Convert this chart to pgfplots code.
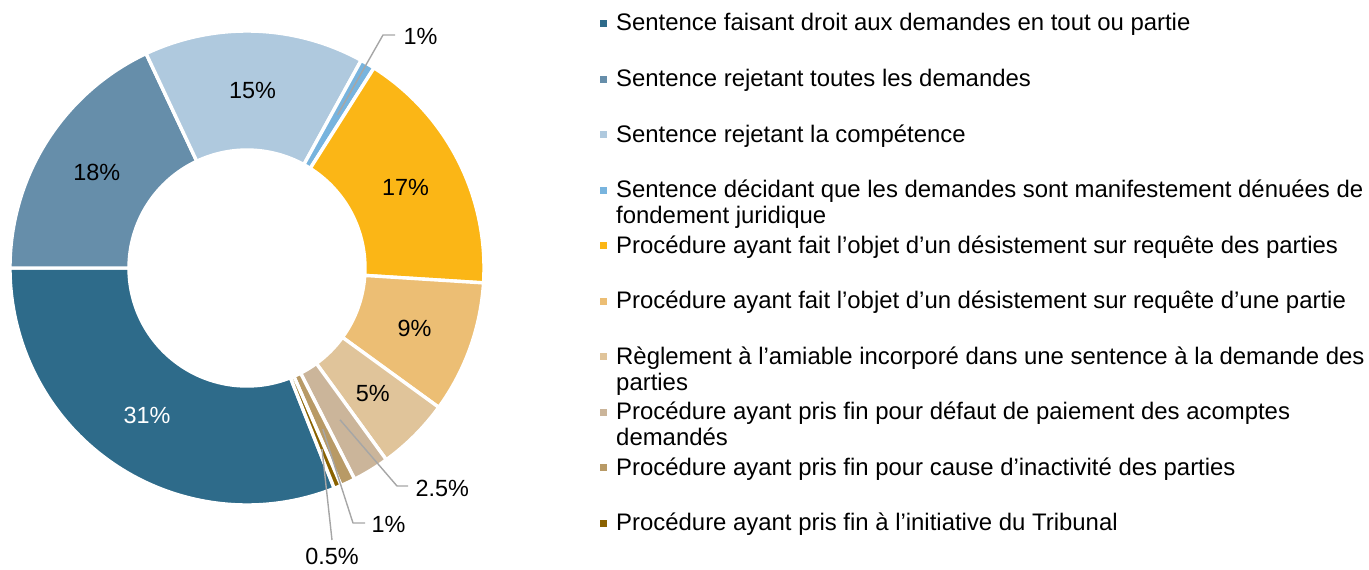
\documentclass[border=0pt]{standalone}
\usepackage{fontspec}
\setmainfont{Liberation Sans}
\usepackage{pgfplots}
\usepackage{pgfplotstable}
\pgfplotsset{compat=1.18}

\definecolor{c0}{RGB}{46,107,138}
\definecolor{c1}{RGB}{102,142,170}
\definecolor{c2}{RGB}{175,201,222}
\definecolor{c3}{RGB}{120,180,222}
\definecolor{c4}{RGB}{251,182,22}
\definecolor{c5}{RGB}{236,190,116}
\definecolor{c6}{RGB}{224,196,154}
\definecolor{c7}{RGB}{203,181,154}
\definecolor{c8}{RGB}{184,154,102}
\definecolor{c9}{RGB}{138,98,0}
\definecolor{leader}{RGB}{166,166,166}

% share of each category (%), in legend order
\pgfplotstableread{
value
31
18
15
1
17
9
5
2.5
1
0.5
}\piedata

\def\startangle{158.4}% first slice starts at this angle (clockwise from 12 o'clock)
\def\cx{247}\def\cy{268}\def\Rout{237}\def\Rin{118}\def\Rlab{178}
\pgfmathsetmacro{\cum}{0}
\pgfplotsforeachungrouped \i in {0,...,9}{%
  \pgfplotstablegetelem{\i}{value}\of\piedata
  \expandafter\xdef\csname v\i\endcsname{\pgfplotsretval}%
  \pgfmathsetmacro{\va}{\pgfplotsretval}%
  \pgfmathsetmacro{\aS}{90-(\startangle+3.6*\cum)}%
  \pgfmathsetmacro{\aE}{\aS-3.6*\va}%
  \pgfmathsetmacro{\aM}{(\aS+\aE)/2}%
  \pgfmathsetmacro{\lx}{\cx+\Rlab*cos(\aM)}%
  \pgfmathsetmacro{\ly}{\cy-\Rlab*sin(\aM)}%
  \pgfmathsetmacro{\mx}{\cx+196*cos(\aM)}%
  \pgfmathsetmacro{\my}{\cy-196*sin(\aM)}%
  \expandafter\xdef\csname aS\i\endcsname{\aS}%
  \expandafter\xdef\csname aE\i\endcsname{\aE}%
  \expandafter\xdef\csname lx\i\endcsname{\lx}%
  \expandafter\xdef\csname ly\i\endcsname{\ly}%
  \expandafter\xdef\csname mx\i\endcsname{\mx}%
  \expandafter\xdef\csname my\i\endcsname{\my}%
  \pgfmathsetmacro{\cum}{\cum+\va}%
}

\newcommand{\legitem}[2]{%
  \pgfmathsetmacro{\yb}{31+55.5*#1}%
  \pgfmathsetmacro{\ys}{\yb-11}%
  \pgfmathsetmacro{\ye}{\yb-4}%
  \edef\temp{\noexpand\fill[c#1] (axis cs:600,\ys) rectangle (axis cs:607,\ye);
    \noexpand\node[font=\noexpand\fontsize{24}{26}\noexpand\selectfont, anchor=base west, inner sep=0pt]
      at (axis cs:616,\yb) {\unexpanded{#2}};}%
  \temp}
\newcommand{\leader}[3]{%
  \edef\temp{\noexpand\draw[leader, line width=1.4bp, line join=round] (axis cs:\csname lx#1\endcsname,\csname ly#1\endcsname) -- #2 -- #3;}%
  \temp}

\begin{document}
\begin{tikzpicture}
\begin{axis}[width=1369bp, height=569bp, scale only axis,
  xmin=0, xmax=1369, ymin=0, ymax=569, y dir=reverse,
  hide axis, clip=false]
% slices
\pgfplotsforeachungrouped \i in {0,...,9}{%
  \edef\temp{\noexpand\filldraw[fill=c\i, draw=white, line width=3.4bp, line join=miter,
    shift={(axis cs:\cx,\cy)}]
    (\csname aS\i\endcsname:\Rout bp) arc[start angle=\csname aS\i\endcsname, end angle=\csname aE\i\endcsname, radius=\Rout bp]
    -- (\csname aE\i\endcsname:\Rin bp) arc[start angle=\csname aE\i\endcsname, end angle=\csname aS\i\endcsname, radius=\Rin bp] -- cycle;}%
  \temp
}
% inner data labels
\pgfplotsforeachungrouped \i in {0,1,2,4,5,6}{%
  \edef\temp{\noexpand\node[font=\noexpand\fontsize{23.5}{25}\noexpand\selectfont, text=\ifnum\i=0 white\else black\fi]
    at (axis cs:\csname lx\i\endcsname,\csname ly\i\endcsname) {\csname v\i\endcsname\noexpand\%};}%
  \temp
}
% outer labels with leader lines
\leader{3}{(axis cs:383,35)}{(axis cs:395,35)}
\leader{7}{(axis cs:397,486)}{(axis cs:408,486)}
\leader{8}{(axis cs:353,523)}{(axis cs:365,523)}
\edef\temp{\noexpand\draw[leader, line width=1.4bp] (axis cs:\csname mx9\endcsname,\csname my9\endcsname) -- (axis cs:332,540);}\temp
\node[font=\fontsize{23.5}{25}\selectfont, anchor=west] at (axis cs:400,36) {1\%};
\node[font=\fontsize{23.5}{25}\selectfont, anchor=west] at (axis cs:412,488) {2.5\%};
\node[font=\fontsize{23.5}{25}\selectfont, anchor=west] at (axis cs:368,524) {1\%};
\node[font=\fontsize{23.5}{25}\selectfont] at (axis cs:332,556) {0.5\%};
% legend
\legitem{0}{Sentence faisant droit aux demandes en tout ou partie}
\legitem{1}{Sentence rejetant toutes les demandes}
\legitem{2}{Sentence rejetant la compétence}
\legitem{3}{Sentence décidant que les demandes sont manifestement dénuées de}
\legitem{4}{Procédure ayant fait l’objet d’un désistement sur requête des parties}
\legitem{5}{Procédure ayant fait l’objet d’un désistement sur requête d’une partie}
\legitem{6}{Règlement à l’amiable incorporé dans une sentence à la demande des}
\legitem{7}{Procédure ayant pris fin pour défaut de paiement des acomptes}
\legitem{8}{Procédure ayant pris fin pour cause d’inactivité des parties}
\legitem{9}{Procédure ayant pris fin à l’initiative du Tribunal}
\node[font=\fontsize{24}{26}\selectfont, anchor=base west, inner sep=0pt] at (axis cs:616,223.5) {fondement juridique};
\node[font=\fontsize{24}{26}\selectfont, anchor=base west, inner sep=0pt] at (axis cs:616,390) {parties};
\node[font=\fontsize{24}{26}\selectfont, anchor=base west, inner sep=0pt] at (axis cs:616,445.5) {demandés};
\end{axis}
\pgfresetboundingbox
\path (current axis.south west) rectangle (current axis.north east);
\end{tikzpicture}
\end{document}
